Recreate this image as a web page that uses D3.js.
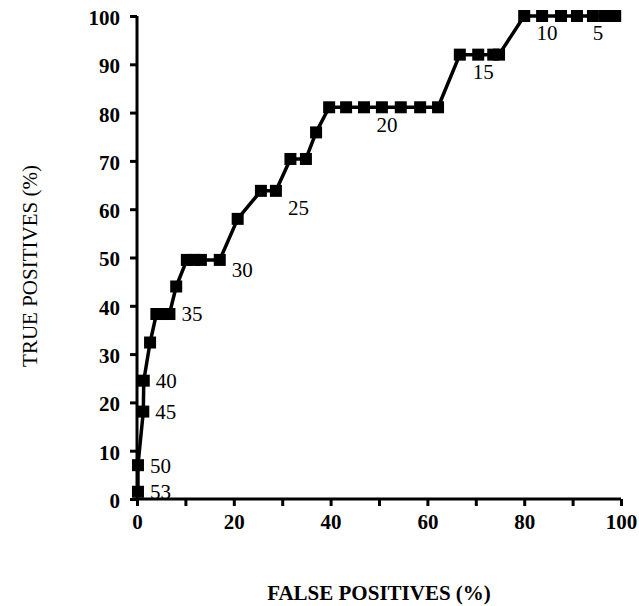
<!DOCTYPE html>
<html>
<head>
<meta charset="utf-8">
<script src="https://cdn.jsdelivr.net/npm/d3@7"></script>
<style>
  body { margin: 0; background: #fff; }
  text { font-family: "Liberation Serif", "Times New Roman", serif; fill: #000; }
</style>
</head>
<body>
<div id="chart"></div>
<script>
// ROC curve points (percent)
var falsePos = [0.2, 0.2, 1.3, 1.4, 2.7, 4.0, 5.4, 6.7, 8.1, 10.3, 11.8, 13.2, 17.1,
  20.8, 25.6, 28.7, 31.7, 34.9, 37.0, 39.7, 43.2, 46.9, 50.6, 54.5, 58.5, 62.2,
  66.7, 70.5, 73.6, 74.8, 80.0, 83.7, 87.6, 90.9, 94.2, 96.7, 98.8];
var truePos = [1.5, 7.0, 18.1, 24.5, 32.4, 38.3, 38.3, 38.3, 44.0, 49.5, 49.5, 49.5, 49.5,
  58.0, 63.8, 63.8, 70.4, 70.4, 75.9, 81.1, 81.1, 81.1, 81.1, 81.1, 81.1, 81.1,
  92.0, 92.0, 92.0, 92.0, 100, 100, 100, 100, 100, 100, 100];

// threshold labels and the point they belong to
var thresholds = ["53", "50", "45", "40", "35", "30", "25", "20", "15", "10", "5"];
var thresholdPoint = [0, 1, 2, 3, 7, 12, 15, 22, 27, 31, 34];

var xTicks = [0, 20, 40, 60, 80, 100];
var yTicks = [0, 10, 20, 30, 40, 50, 60, 70, 80, 90, 100];

var width = 639, height = 606;

var svg = d3.select("#chart")
  .append("svg")
  .attr("width", width)
  .attr("height", height);

var x = d3.scaleLinear().domain([0, 100]).range([137, 621]);
var y = d3.scaleLinear().domain([0, 100]).range([499, 16]);

// axes
var xAxis = d3.axisBottom(x)
  .tickValues(d3.range(0, 101, 10))
  .tickSize(7)
  .tickFormat(function(d) { return xTicks.indexOf(d) >= 0 ? d : ""; });

var yAxis = d3.axisLeft(y)
  .tickValues(yTicks)
  .tickSize(7)
  .tickPadding(10);

var gx = svg.append("g")
  .attr("transform", "translate(0," + y(0) + ")")
  .call(xAxis);

var gy = svg.append("g")
  .attr("transform", "translate(" + x(0) + ",0)")
  .call(yAxis);

[gx, gy].forEach(function(g) {
  g.select(".domain").attr("stroke", "#000").attr("stroke-width", 3);
  g.selectAll(".tick line").attr("stroke", "#000").attr("stroke-width", 3);
  g.selectAll(".tick text")
    .style("font-family", "'Liberation Serif', serif")
    .style("font-size", "21px")
    .style("font-weight", "bold")
    .attr("fill", "#000");
});
gx.select(".domain").attr("d", "M" + x(0) + ",0H" + x(100));
gy.select(".domain").attr("d", "M0," + y(0) + "V" + y(100));
gx.selectAll(".tick text").attr("dy", "0.95em");
gy.selectAll(".tick text").attr("dy", "0.4em");

// curve
var pts = falsePos.map(function(d, i) { return [d, truePos[i]]; });

var line = d3.line()
  .x(function(d) { return x(d[0]); })
  .y(function(d) { return y(d[1]); });

svg.append("path")
  .datum(pts)
  .attr("d", line)
  .attr("fill", "none")
  .attr("stroke", "#000")
  .attr("stroke-width", 3.5)
  .attr("stroke-linejoin", "round");

var sq = 12;
svg.selectAll(".pt")
  .data(pts)
  .enter()
  .append("rect")
  .attr("class", "pt")
  .attr("x", function(d) { return x(d[0]) - sq / 2; })
  .attr("y", function(d) { return y(d[1]) - sq / 2; })
  .attr("width", sq)
  .attr("height", sq)
  .attr("fill", "#000");

// threshold labels: first five sit to the right, later ones under the curve
svg.selectAll(".thr")
  .data(thresholds)
  .enter()
  .append("text")
  .attr("class", "thr")
  .attr("x", function(d, i) {
    var p = pts[thresholdPoint[i]];
    return x(p[0]) + (i < 7 ? 12 : 5);
  })
  .attr("y", function(d, i) {
    var p = pts[thresholdPoint[i]];
    var dy = i < 5 ? 0 : (i == 5 ? 10 : 17);
    return y(p[1]) + dy;
  })
  .attr("dy", "0.35em")
  .attr("text-anchor", function(d, i) { return i < 7 ? "start" : "middle"; })
  .style("font-size", "21px")
  .text(function(d) { return d; });

// axis titles
svg.append("text")
  .attr("transform", "translate(30," + 266 + ") rotate(-90)")
  .attr("text-anchor", "middle")
  .attr("dy", "0.35em")
  .style("font-size", "21px")
  .text("TRUE POSITIVES (%)");

svg.append("text")
  .attr("x", 379)
  .attr("y", 593)
  .attr("text-anchor", "middle")
  .attr("dy", "0.35em")
  .style("font-size", "21px")
  .style("font-weight", "bold")
  .text("FALSE POSITIVES (%)");
</script>
</body>
</html>
